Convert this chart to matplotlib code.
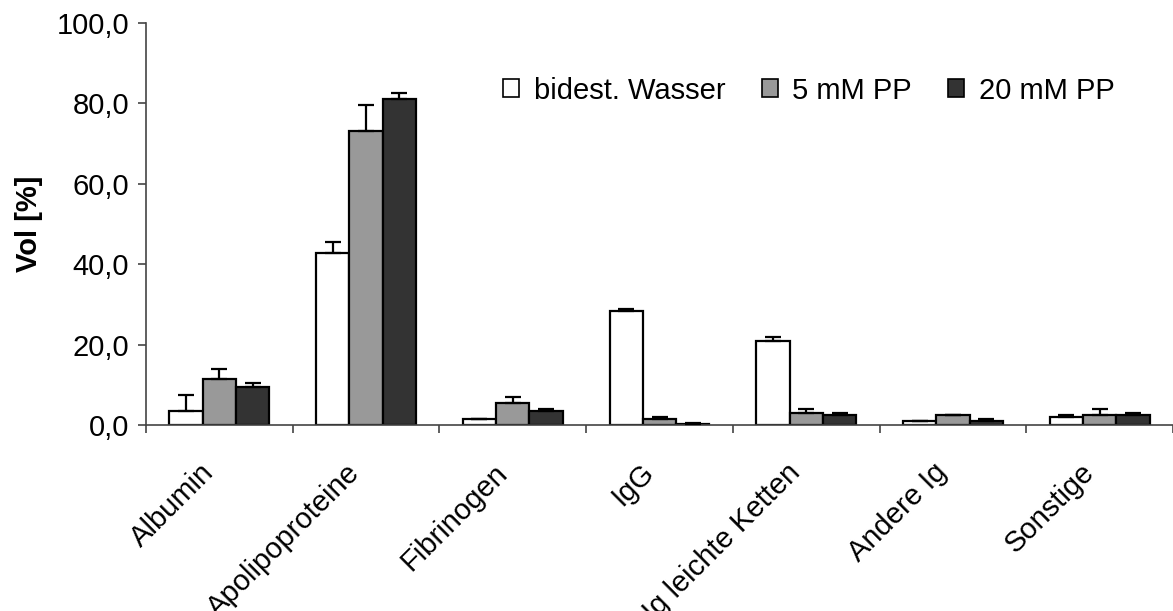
import matplotlib
matplotlib.use("Agg")
import matplotlib.pyplot as plt
from matplotlib.transforms import ScaledTranslation
import numpy as np

plt.rcParams['font.family'] = ['Liberation Sans', 'DejaVu Sans']

categories = ["Albumin", "Apolipoproteine", "Fibrinogen", "IgG",
              "Ig leichte Ketten", "Andere Ig", "Sonstige"]
series_names = ["bidest. Wasser", "5 mM PP", "20 mM PP"]
wasser = [3.6, 42.9, 1.6, 28.4, 21.0, 1.1, 2.1]
wasser_err = [3.9, 2.5, 0.0, 0.5, 0.9, 0.0, 0.5]
pp5 = [11.4, 73.2, 5.5, 1.5, 3.1, 2.6, 2.6]
pp5_err = [2.6, 6.5, 1.5, 0.6, 1.0, 0.0, 1.5]
pp20 = [9.5, 81.2, 3.6, 0.3, 2.6, 1.1, 2.6]
pp20_err = [0.9, 1.4, 0.4, 0.3, 0.5, 0.5, 0.5]
yticks = [0, 20, 40, 60, 80, 100]
ytick_labels = ["0,0", "20,0", "40,0", "60,0", "80,0", "100,0"]

colors = ["#ffffff", "#999999", "#333333"]

fig = plt.figure(figsize=(11.73, 6.11), dpi=100)
ax = fig.add_axes([146/1173, 1 - 425/611, 1 - 146/1173, (425 - 23)/611])

x = np.arange(len(categories))
w = 0.227
data = [(wasser, wasser_err), (pp5, pp5_err), (pp20, pp20_err)]
for i, ((vals, errs), c, name) in enumerate(zip(data, colors, series_names)):
    pos = x + (i - 1) * w
    ax.bar(pos, vals, width=w, color=c, edgecolor="black", linewidth=1.6,
           label=name, zorder=2)
    ax.errorbar(pos, vals, yerr=[np.zeros(len(vals)), errs], fmt="none",
                ecolor="black", elinewidth=1.6, capsize=5.8, capthick=1.6,
                zorder=3)

ax.set_xlim(-0.5, 6.5)
ax.set_ylim(0, 100)
ax.set_yticks(yticks)
ax.set_yticklabels(ytick_labels, fontsize=21)
ax.set_xticks(x)
ax.set_xticklabels(categories, rotation=45, ha="right", va="top",
                   rotation_mode="anchor", fontsize=21)
ax.tick_params(axis="x", which="major", length=0, pad=24)
for lab in ax.get_xticklabels():
    lab.set_transform(lab.get_transform() +
                      ScaledTranslation(-0.20, 0, fig.dpi_scale_trans))
ax.set_xticks(np.arange(-0.5, 7, 1.0), minor=True)
ax.tick_params(axis="x", which="minor", length=6, width=1.2, color="#444444")
ax.tick_params(axis="y", length=6, width=1.2, color="#444444", pad=6)
for s in ["top", "right"]:
    ax.spines[s].set_visible(False)
for s in ["left", "bottom"]:
    ax.spines[s].set_color("#444444")
    ax.spines[s].set_linewidth(1.2)

ax.set_ylabel("Vol [%]", fontsize=21, fontweight="bold", labelpad=10)

leg = ax.legend(loc="center left", bbox_to_anchor=(0.3476, 0.832), ncol=3,
                frameon=False, fontsize=21, handlelength=0.55,
                handleheight=0.55, handletextpad=0.5, columnspacing=1.25,
                borderpad=0, borderaxespad=0)
for h in leg.legend_handles:
    h.set_linewidth(1.2)

fig.savefig("out.png", dpi=100)
